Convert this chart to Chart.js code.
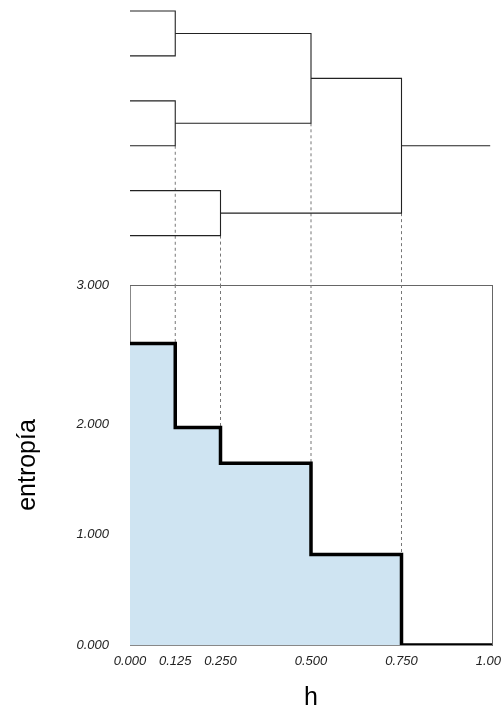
<!DOCTYPE html>
<html>
<head>
<meta charset="utf-8">
<script src="https://cdn.jsdelivr.net/npm/chart.js@4"></script>
<style>
  html, body { margin: 0; padding: 0; background: #fff; overflow: hidden; }
  #wrap { position: relative; width: 501px; height: 713px; }
  canvas { position: absolute; left: 0; }
  #dendro { top: 0; }
  #steps { top: 280px; }
</style>
</head>
<body>
<div id="wrap">
  <canvas id="dendro" width="501" height="285"></canvas>
  <canvas id="steps" width="501" height="433"></canvas>
</div>
<script>
// cut heights h and the entropy of the partition on each interval
const stepH = [0, 0.125, 0.25, 0.5, 0.75, 1.0];
const entropy = [2.73, 1.97, 1.645, 0.82, 0, 0];

// axis ticks
const xTicks = [0, 0.125, 0.25, 0.5, 0.75, 1.0];
const xTickLabels = ['0.000', '0.125', '0.250', '0.500', '0.750', '1.000'];
const yTicks = [0, 1, 2, 3.26];
const yTickLabels = ['0.000', '1.000', '2.000', '3.000'];

// dendrogram: 6 leaves, merges as [childA, childB, height] (new nodes numbered from 6)
const leafCount = 6;
const merges = [[0, 1, 0.125], [2, 3, 0.125], [4, 5, 0.25], [6, 7, 0.5], [8, 9, 0.75]];
const rootEnd = 0.995;

const FONT = 'Liberation Sans, Arial, sans-serif';
const LINE = '#222';
const DASH = '#777';

// build dendrogram paths
const nodeY = [];
const nodeH = [];
for (let i = 0; i < leafCount; i++) { nodeY.push(i); nodeH.push(0); }
const dendroSets = [];
const dashTop = {};
merges.forEach(([a, b, h]) => {
  dendroSets.push([
    {x: nodeH[a], y: nodeY[a]}, {x: h, y: nodeY[a]},
    {x: h, y: nodeY[b]}, {x: nodeH[b], y: nodeY[b]}
  ]);
  nodeY.push((nodeY[a] + nodeY[b]) / 2);
  nodeH.push(h);
  dashTop[h] = Math.max(dashTop[h] ?? -1, nodeY[a], nodeY[b]);
});
const root = nodeY.length - 1;
dendroSets.push([{x: nodeH[root], y: nodeY[root]}, {x: rootEnd, y: nodeY[root]}]);

const dendroYMin = -0.245, dendroYMax = 6.1;

const dendroDatasets = dendroSets.map(pts => ({
  data: pts, showLine: true, borderColor: LINE, borderWidth: 1.1,
  pointRadius: 0, fill: false, order: 0
}));
Object.keys(dashTop).forEach(h => {
  dendroDatasets.push({
    data: [{x: +h, y: dashTop[h]}, {x: +h, y: dendroYMax}],
    showLine: true, borderColor: DASH, borderWidth: 1, borderDash: [3, 3],
    pointRadius: 0, fill: false, order: 1
  });
});

new Chart(document.getElementById('dendro'), {
  type: 'scatter',
  data: { datasets: dendroDatasets },
  options: {
    responsive: false, animation: false,
    layout: { padding: { left: 130, right: 9, top: 0, bottom: 0 } },
    plugins: { legend: { display: false }, tooltip: { enabled: false } },
    scales: {
      x: { type: 'linear', min: 0, max: 1, display: false },
      y: { type: 'linear', min: dendroYMin, max: dendroYMax, reverse: true, display: false }
    }
  }
});

// step chart
const yMax = yTicks[yTicks.length - 1];
const stepDatasets = [{
  data: stepH.map((h, i) => ({x: h, y: entropy[i]})),
  showLine: true, stepped: true, borderColor: '#000', borderWidth: 3.5,
  borderJoinStyle: 'miter', backgroundColor: '#cfe4f2', fill: 'origin',
  pointRadius: 0, order: 0
}];
Object.keys(dashTop).forEach(h => {
  const i = stepH.indexOf(+h);
  stepDatasets.push({
    data: [{x: +h, y: yMax}, {x: +h, y: entropy[i - 1]}],
    showLine: true, borderColor: DASH, borderWidth: 1, borderDash: [3, 3],
    pointRadius: 0, fill: false, order: 1
  });
});

const tickFont = { family: FONT, size: 13, style: 'italic' };
const frame = {
  display: true, ticks: { display: false },
  grid: { display: true, drawOnChartArea: false, drawTicks: false },
  border: { display: true, color: '#666', width: 1 }
};

new Chart(document.getElementById('steps'), {
  type: 'scatter',
  data: { datasets: stepDatasets },
  options: {
    responsive: false, animation: false,
    layout: { padding: { left: 0, right: 9, top: 5, bottom: 0 } },
    plugins: { legend: { display: false }, tooltip: { enabled: false } },
    scales: {
      x: {
        type: 'linear', min: 0, max: 1, position: 'bottom',
        afterBuildTicks: s => { s.ticks = xTicks.map(v => ({value: v})); },
        afterFit: s => { s.height = 68; s.paddingLeft = 0; s.paddingRight = 0; },
        ticks: { callback: (v, i) => xTickLabels[i], padding: 9, font: tickFont, color: '#222',
                 maxRotation: 0, autoSkip: false },
        grid: { drawOnChartArea: false, drawTicks: false },
        border: { color: '#888', width: 1 },
        title: { display: true, text: 'h', color: '#000', font: { family: FONT, size: 25 },
                 padding: { top: 0, bottom: 0 } }
      },
      y: {
        type: 'linear', min: 0, max: yMax, position: 'left',
        afterBuildTicks: s => { s.ticks = yTicks.map(v => ({value: v})); },
        afterFit: s => { s.width = 130; s.paddingTop = 0; s.paddingBottom = 0; },
        ticks: { callback: (v, i) => yTickLabels[i], padding: 21, font: tickFont, color: '#222',
                 autoSkip: false },
        grid: { drawOnChartArea: false, drawTicks: false },
        border: { color: '#888', width: 1 },
        title: { display: true, text: 'entropía', color: '#000', font: { family: FONT, size: 25 },
                 padding: { top: 13, bottom: 0 } }
      },
      x2: Object.assign({ axis: 'x', type: 'linear', min: 0, max: 1, position: 'top',
                          afterFit: s => { s.height = 0; } }, frame),
      y2: Object.assign({ axis: 'y', type: 'linear', min: 0, max: yMax, position: 'right',
                          afterFit: s => { s.width = 0; } }, frame)
    }
  }
});
</script>
</body>
</html>
